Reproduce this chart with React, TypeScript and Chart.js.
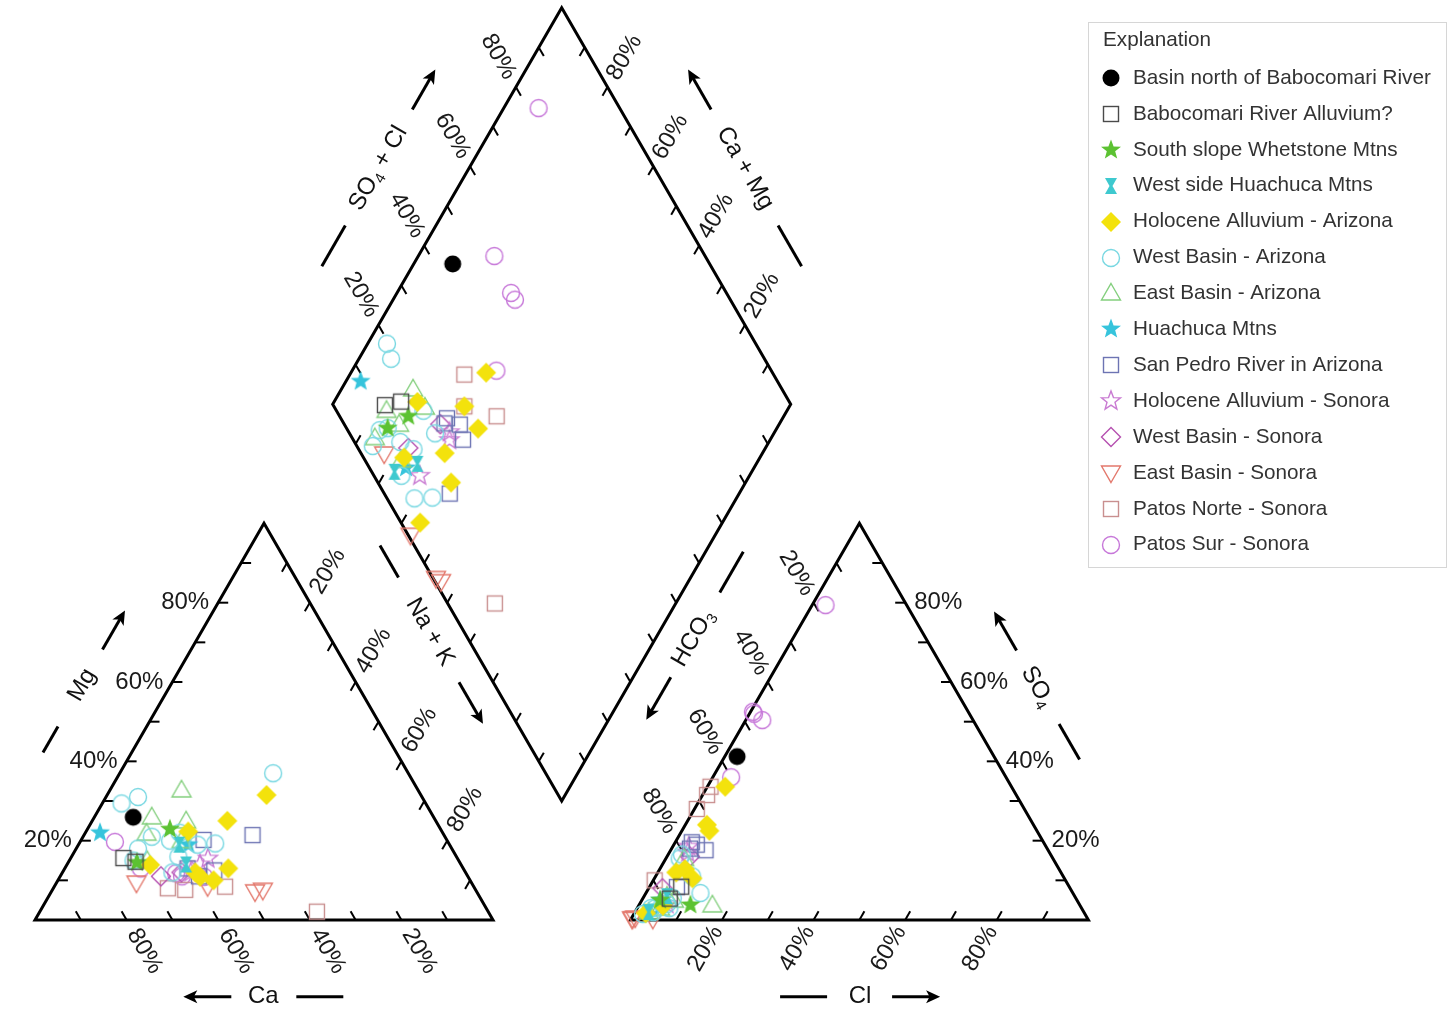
import React, { useEffect, useRef } from 'react';
import { Chart, registerables } from 'chart.js';

Chart.register(...registerables);

// ---------------- DATA (milliequivalent percent) ----------------
// Each sample: [Ca %, Mg %, Cl %, SO4 %]; Na+K = 100 - Ca - Mg, HCO3 = 100 - Cl - SO4
const seriesLabels = [
  'Basin north of Babocomari River',
  'Babocomari River Alluvium?',
  'South slope Whetstone Mtns',
  'West side Huachuca Mtns',
  'Holocene Alluvium - Arizona',
  'West Basin - Arizona',
  'East Basin - Arizona',
  'Huachuca Mtns',
  'San Pedro River in Arizona',
  'Holocene Alluvium - Sonora',
  'West Basin - Sonora',
  'East Basin - Sonora',
  'Patos Norte - Sonora',
  'Patos Sur - Sonora',
];

const basinNorthBabocomari = [[65.6, 25.9, 2.7, 41.2]];
const babocomariAlluvium = [[72.9, 15.6, 5.9, 5.4], [70.7, 14.7, 6.9, 8.4]];
const southSlopeWhetstone = [[59.1, 22.9, 11.2, 3.8], [70.5, 14.5, 4, 5]];
const westSideHuachuca = [[59, 19, 3, 2], [60, 14, 5, 6]];
const holoceneArizona = [
  [45.5, 25, 3.9, 33.6], [59, 12, 6, 22.5], [33.7, 31.5, 4.7, 24], [58.5, 10.9, 5.5, 12.8],
  [51.3, 13, 4, 12], [56, 10, 2.5, 1.7], [67.9, 13.9, 8.3, 10.5], [55.4, 22.3, 5.3, 3.6],
];
const westBasinArizona = [
  [66.4, 29.4, 3, 16.5], [62, 31, 3, 15.5], [29.5, 37, 7, 3], [68.5, 18, 4, 3],
  [71, 15, 2, 1.5], [60.5, 20, 6, 4], [60.7, 16, 6.5, 5.5], [64, 12, 4, 2],
  [57.4, 22, 8, 11], [64, 21, 5, 4], [55, 19, 11.9, 6.8], [51, 19.3, 3, 3],
];
const eastBasinArizona = [
  [51.6, 32.8, 4, 15.5], [61.5, 26, 5, 6], [54.5, 25, 16, 3.8],
  [64.7, 21.9, 3, 2], [58, 20, 5, 3], [68, 15, 7, 5],
];
const huachucaMtns = [[74.8, 22, 4, 5], [57, 19, 5, 3]];
const sanPedroArizona = [
  [41.8, 21.4, 6, 8.3], [53.1, 20.2, 3.6, 19.6], [60.2, 13, 4, 18],
  [58.7, 11, 7.6, 17.6], [54.6, 12.5, 5, 19],
];
const holoceneSonora = [[54.5, 15.5, 4, 17], [57, 14, 3.5, 18.5], [60, 12, 6, 4]];
const westBasinSonora = [[62, 12, 5, 16], [67, 11, 3, 8]];
const eastBasinSonora = [[48.4, 7.1, 0.3, 0.3], [46.5, 7.5, 0.8, 0.5], [73.2, 9.3, 4.8, 0.2], [58.1, 8.4, 0.3, 0.2]];
const patosNorte = [[37.4, 2.1, 0.3, 10], [54.3, 8.4, 0.7, 33.6], [67, 8, 1, 31.5], [63.4, 7.6, 0.5, 28]];
const patosSur = [
  [72.7, 19.7, 2.9, 79.4], [70.4, 13, 3.6, 50.4], [63.3, 11.8, 0.5, 52.5],
  [62.4, 11, 1, 52], [57.6, 10.9, 4, 36],
];

const allSeries = [
  basinNorthBabocomari, babocomariAlluvium, southSlopeWhetstone, westSideHuachuca,
  holoceneArizona, westBasinArizona, eastBasinArizona, huachucaMtns, sanPedroArizona,
  holoceneSonora, westBasinSonora, eastBasinSonora, patosNorte, patosSur,
];

const labelPercents = [20, 40, 60, 80];
const tickPercents = [10, 20, 30, 40, 50, 60, 70, 80, 90];

// ---------------- STYLE ----------------
type Kind = 'dot' | 'square' | 'star' | 'hourglass' | 'diamond' | 'circle' | 'triangle' | 'starOpen' | 'diamondOpen' | 'triangleDown';
const seriesStyles: [Kind, string][] = [
  ['dot', '#000000'],
  ['square', '#4a4a4a'],
  ['star', '#5cc232'],
  ['hourglass', '#3ec9cf'],
  ['diamond', '#f3e20c'],
  ['circle', '#79d8e2'],
  ['triangle', '#84cf7e'],
  ['star', '#36c4dc'],
  ['square', '#6d74b3'],
  ['starOpen', '#c97bd2'],
  ['diamondOpen', '#b550b0'],
  ['triangleDown', '#e3786c'],
  ['square', '#c98f8f'],
  ['circle', '#c778d9'],
];

const FONT = '"Liberation Sans", Arial, Helvetica, sans-serif';
const H = Math.sqrt(3) / 2;
const GAP = 30;
const MIDX = 100 + GAP / 2;
const BASEY = GAP * H;
const PX = 4.58; // pixels per unit
const X0 = 35;
const Y0 = 920;

function makeMarker(kind: Kind, color: string): HTMLCanvasElement {
  const size = 26;
  const c = document.createElement('canvas');
  c.width = size;
  c.height = size;
  const g = c.getContext('2d') as CanvasRenderingContext2D;
  g.translate(size / 2, size / 2);
  g.lineWidth = 1.4;
  g.strokeStyle = color;
  g.fillStyle = color;
  const starPath = (ro: number, ri: number) => {
    g.beginPath();
    for (let k = 0; k < 10; k++) {
      const r = k % 2 ? ri : ro;
      const a = -Math.PI / 2 + (k * Math.PI) / 5;
      g.lineTo(r * Math.cos(a), r * Math.sin(a));
    }
    g.closePath();
  };
  const diamondPath = (r: number) => {
    g.beginPath();
    g.moveTo(0, -r); g.lineTo(r, 0); g.lineTo(0, r); g.lineTo(-r, 0);
    g.closePath();
  };
  switch (kind) {
    case 'dot':
      g.beginPath(); g.arc(0, 0, 8.5, 0, Math.PI * 2); g.fill(); break;
    case 'square':
      g.strokeRect(-7.5, -7.5, 15, 15); break;
    case 'star':
      starPath(10.5, 4.4); g.fill(); break;
    case 'starOpen':
      starPath(10, 4.2); g.stroke(); break;
    case 'hourglass':
      g.beginPath();
      g.moveTo(-6, -8); g.lineTo(6, -8); g.lineTo(1.5, 0); g.lineTo(6, 8);
      g.lineTo(-6, 8); g.lineTo(-1.5, 0); g.closePath(); g.fill(); break;
    case 'diamond':
      diamondPath(10); g.fill(); break;
    case 'diamondOpen':
      diamondPath(9.5); g.stroke(); break;
    case 'circle':
      g.beginPath(); g.arc(0, 0, 8.5, 0, Math.PI * 2); g.stroke(); break;
    case 'triangle':
      g.beginPath(); g.moveTo(0, -9.5); g.lineTo(9.5, 7); g.lineTo(-9.5, 7); g.closePath(); g.stroke(); break;
    case 'triangleDown':
      g.beginPath(); g.moveTo(0, 9.5); g.lineTo(9.5, -7); g.lineTo(-9.5, -7); g.closePath(); g.stroke(); break;
  }
  return c;
}

function samplePoints(s: number[]) {
  const [ca, mg, cl, so4] = s;
  const na = 100 - ca - mg;
  const cat = ca + mg;
  const an = cl + so4;
  return [
    { x: na + mg / 2, y: mg * H },
    { x: 100 + GAP + cl + so4 / 2, y: so4 * H },
    { x: MIDX + 0.5 * (an - cat), y: BASEY + H * (an + cat) },
  ];
}

const diamondPoint = (s: number, c: number): [number, number] => [MIDX + 0.5 * (s - c), BASEY + H * (s + c)];

type Edge = {
  point: (v: number) => [number, number];
  dir: [number, number];
  label?: { rot: number; align: CanvasTextAlign; off: [number, number] };
};

const edges: Edge[] = [
  { point: (v) => [100 - v, 0], dir: [-0.5, H], label: { rot: Math.PI / 3, align: 'left', off: [6, 10.4] } },
  { point: (v) => [v / 2, v * H], dir: [1, 0], label: { rot: 0, align: 'right', off: [-9, 0] } },
  { point: (v) => [50 + v / 2, (100 - v) * H], dir: [-0.5, -H], label: { rot: -Math.PI / 3, align: 'left', off: [6, -10.4] } },
  { point: (v) => [130 + v, 0], dir: [0.5, H], label: { rot: -Math.PI / 3, align: 'right', off: [-4.5, 7.8] } },
  { point: (v) => [130 + (100 - v) / 2, (100 - v) * H], dir: [0.5, -H], label: { rot: Math.PI / 3, align: 'right', off: [-5, -8.7] } },
  { point: (v) => [230 - v / 2, v * H], dir: [-1, 0], label: { rot: 0, align: 'left', off: [9, 0] } },
  { point: (v) => diamondPoint(v, 100), dir: [0.5, -H], label: { rot: Math.PI / 3, align: 'right', off: [-5.5, -9.5] } },
  { point: (v) => diamondPoint(100, v), dir: [-0.5, -H], label: { rot: -Math.PI / 3, align: 'left', off: [5, -8.7] } },
  { point: (v) => diamondPoint(0, v), dir: [0.5, H] },
  { point: (v) => diamondPoint(v, 0), dir: [-0.5, H] },
];

type Title = {
  parts: [string, boolean][];
  at: [number, number];
  rot: number;
  line: [number, number];
  arrow: [number, number];
};

const titles: Title[] = [
  { parts: [['Mg', false]], at: [10.26, 51.31], rot: -Math.PI / 3, line: [-78, -48], arrow: [41, 86] },
  { parts: [['Ca', false]], at: [49.85, -16.75], rot: 0, line: [33, 80], arrow: [-32, -80] },
  { parts: [['Cl', false]], at: [180.15, -16.75], rot: 0, line: [-80, -33], arrow: [32, 80] },
  { parts: [['SO', false], ['4', true]], at: [218.9, 50.9], rot: Math.PI / 3, line: [43, 84], arrow: [-42, -87] },
  { parts: [['SO', false], ['4', true], [' + Cl', false]], at: [74.96, 164.13], rot: -Math.PI / 3, line: [-113, -66], arrow: [68, 114] },
  { parts: [['Ca + Mg', false]], at: [155.04, 164.13], rot: Math.PI / 3, line: [66, 113], arrow: [-68, -114] },
  { parts: [['Na + K', false]], at: [86.24, 62.88], rot: Math.PI / 3, line: [-100, -63], arrow: [58, 106] },
  { parts: [['HCO', false], ['3', true]], at: [143.73, 61.5], rot: -Math.PI / 3, line: [53, 100], arrow: [-45, -94] },
];

const framePlugin = {
  id: 'piperFrame',
  beforeDatasetsDraw(chart: any) {
    const ctx: CanvasRenderingContext2D = chart.ctx;
    const xs = chart.scales.x;
    const ys = chart.scales.y;
    const P = (p: [number, number]): [number, number] => [xs.getPixelForValue(p[0]), ys.getPixelForValue(p[1])];
    ctx.save();
    ctx.strokeStyle = '#000';
    ctx.lineJoin = 'miter';
    const polys: [number, number][][] = [
      [[0, 0], [100, 0], [50, 100 * H]],
      [[130, 0], [230, 0], [180, 100 * H]],
      [diamondPoint(0, 0), diamondPoint(100, 0), diamondPoint(100, 100), diamondPoint(0, 100)],
    ];
    ctx.lineWidth = 3;
    polys.forEach((poly) => {
      ctx.beginPath();
      poly.forEach((p, i) => {
        const [px, py] = P(p);
        if (i === 0) ctx.moveTo(px, py); else ctx.lineTo(px, py);
      });
      ctx.closePath();
      ctx.stroke();
    });
    ctx.lineWidth = 2;
    ctx.fillStyle = '#1a1a1a';
    ctx.font = `24px ${FONT}`;
    ctx.textBaseline = 'middle';
    edges.forEach((e) => {
      const len = Math.hypot(e.dir[0], e.dir[1]);
      const dx = (e.dir[0] / len) * 10;
      const dy = (-e.dir[1] / len) * 10;
      tickPercents.forEach((v) => {
        const [px, py] = P(e.point(v));
        ctx.beginPath();
        ctx.moveTo(px, py);
        ctx.lineTo(px + dx, py + dy);
        ctx.stroke();
      });
      if (e.label) {
        const lab = e.label;
        labelPercents.forEach((v) => {
          const [px, py] = P(e.point(v));
          ctx.save();
          ctx.translate(px + lab.off[0], py + lab.off[1]);
          ctx.rotate(lab.rot);
          ctx.textAlign = lab.align;
          ctx.fillText(`${v}%`, 0, 0);
          ctx.restore();
        });
      }
    });
    const size = 24;
    const mainFont = `${size}px ${FONT}`;
    const subFont = `${Math.round(size * 0.62)}px ${FONT}`;
    titles.forEach((t) => {
      const [cx, cy] = P(t.at);
      ctx.save();
      ctx.translate(cx, cy);
      ctx.rotate(t.rot);
      let total = 0;
      t.parts.forEach(([s, sub]) => {
        ctx.font = sub ? subFont : mainFont;
        total += ctx.measureText(s).width;
      });
      let x = -total / 2;
      ctx.textAlign = 'left';
      ctx.fillStyle = '#111';
      t.parts.forEach(([s, sub]) => {
        ctx.font = sub ? subFont : mainFont;
        ctx.fillText(s, x, sub ? size * 0.3 : 0);
        x += ctx.measureText(s).width;
      });
      ctx.lineWidth = 3;
      ctx.strokeStyle = '#000';
      ctx.beginPath();
      ctx.moveTo(t.line[0], 0);
      ctx.lineTo(t.line[1], 0);
      ctx.stroke();
      const [a0, a1] = t.arrow;
      const sgn = Math.sign(a1 - a0);
      const headLen = 14;
      ctx.beginPath();
      ctx.moveTo(a0, 0);
      ctx.lineTo(a1 - sgn * headLen * 0.6, 0);
      ctx.stroke();
      ctx.fillStyle = '#000';
      ctx.beginPath();
      ctx.moveTo(a1, 0);
      ctx.lineTo(a1 - sgn * headLen, -6.5);
      ctx.lineTo(a1 - sgn * headLen * 0.75, 0);
      ctx.lineTo(a1 - sgn * headLen, 6.5);
      ctx.closePath();
      ctx.fill();
      ctx.restore();
    });
    ctx.restore();
  },
};

const explanationPlugin = {
  id: 'explanation',
  afterDraw(chart: any) {
    const ctx: CanvasRenderingContext2D = chart.ctx;
    ctx.save();
    ctx.fillStyle = '#ffffff';
    ctx.fillRect(1088.5, 22.5, 358, 545);
    ctx.strokeStyle = '#d6d6d6';
    ctx.lineWidth = 1;
    ctx.strokeRect(1088.5, 22.5, 358, 545);
    ctx.font = `20.7px ${FONT}`;
    ctx.fillStyle = '#333333';
    ctx.textBaseline = 'middle';
    ctx.textAlign = 'left';
    ctx.fillText('Explanation', 1103, 40);
    chart.data.datasets.forEach((ds: any, i: number) => {
      const y = 78 + i * 35.9;
      const img = ds.pointStyle as HTMLCanvasElement;
      ctx.drawImage(img, Math.round(1111 - img.width / 2), Math.round(y - img.height / 2));
      ctx.fillStyle = '#333333';
      ctx.fillText(ds.label, 1133, y);
    });
    ctx.restore();
  },
};

export default function App() {
  const ref = useRef<HTMLCanvasElement | null>(null);
  useEffect(() => {
    if (!ref.current) return;
    const datasets = allSeries.map((samples, i) => {
      const [kind, color] = seriesStyles[i];
      const pts: { x: number; y: number }[] = [];
      samples.forEach((s) => pts.push(...samplePoints(s)));
      return {
        label: seriesLabels[i],
        data: pts,
        pointStyle: makeMarker(kind, color),
        pointRadius: 9,
        borderWidth: 0,
        backgroundColor: color,
        borderColor: color,
        showLine: false,
        clip: false as any,
      };
    });
    const chart = new Chart(ref.current, {
      type: 'scatter',
      data: { datasets: datasets as any },
      options: {
        responsive: false,
        animation: false,
        events: [],
        layout: { padding: 0, autoPadding: false },
        scales: {
          x: { type: 'linear', min: -X0 / PX, max: (1450 - X0) / PX, display: false, bounds: 'data' },
          y: { type: 'linear', min: (Y0 - 1012) / PX, max: Y0 / PX, display: false, bounds: 'data' },
        },
        plugins: { legend: { display: false }, tooltip: { enabled: false } },
      },
      plugins: [framePlugin, explanationPlugin],
    });
    return () => chart.destroy();
  }, []);
  return (
    <div style={{ position: 'absolute', left: 0, top: 0, width: 1450, height: 1012, background: '#fff' }}>
      <canvas ref={ref} width={1450} height={1012} style={{ display: 'block' }} />
    </div>
  );
}
